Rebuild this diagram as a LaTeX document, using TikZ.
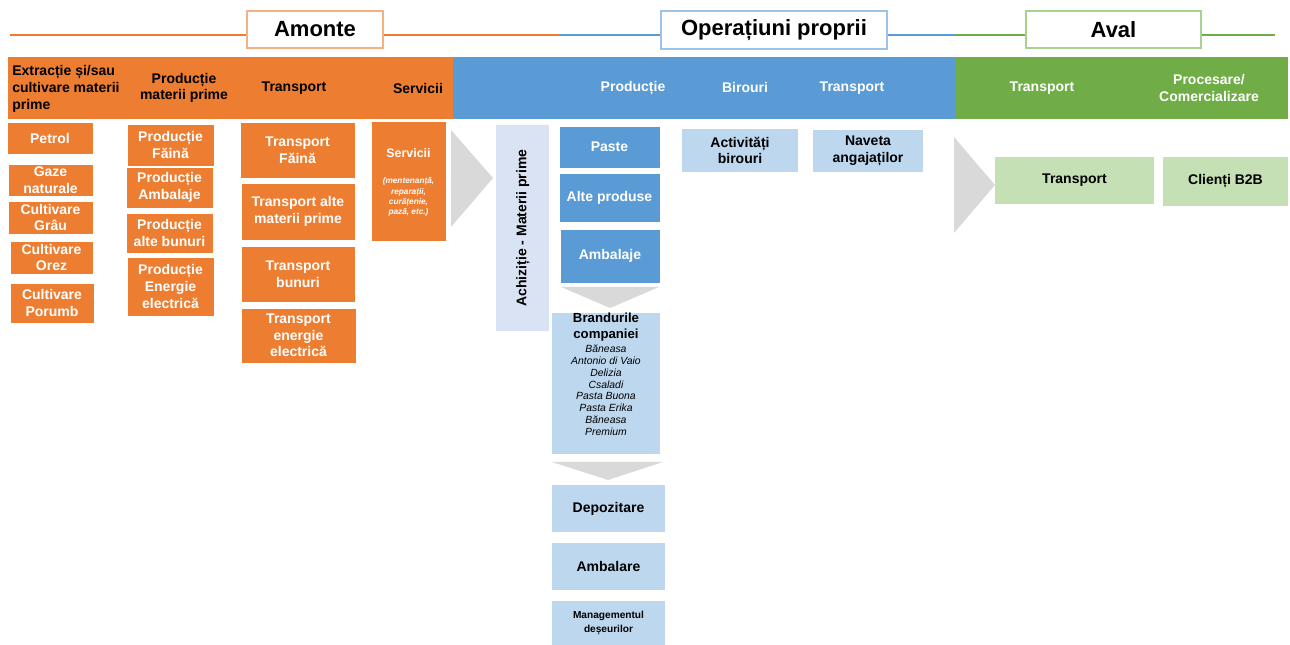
\documentclass[tikz,border=0pt]{standalone}
\usepackage{fontspec}
\setmainfont{Liberation Sans}
\setsansfont{Liberation Sans}
\definecolor{cOrange}{HTML}{ED7D31}
\definecolor{cBlue}{HTML}{5B9BD5}
\definecolor{cGreen}{HTML}{70AD47}
\definecolor{cLBlue}{HTML}{BDD7EE}
\definecolor{cLav}{HTML}{DAE3F3}
\definecolor{cLGreen}{HTML}{C5E0B4}
\definecolor{cGray}{HTML}{D9D9D9}
\definecolor{cOrangeB}{HTML}{F4B183}
\definecolor{cBlueB}{HTML}{9DC3E6}
\definecolor{cGreenB}{HTML}{A9D18E}
\newcommand{\mybox}[7]{\node[#6, minimum width={(#4-#2)*0.75pt}, minimum height={(#5-#3)*0.75pt}] (#1) at ({(#2+#4)/2},{(#3+#5)/2}) {#7};}
\tikzset{
  base/.style={inner sep=0pt, outer sep=0pt, align=center, font=\bfseries\fontsize{10.5}{12.5}\selectfont},
  ob/.style={base, fill=cOrange, draw=white, line width=0.6pt, text=white},
  bb/.style={base, fill=cBlue, draw=white, line width=0.6pt, text=white},
  lb/.style={base, fill=cLBlue, text=black},
  lv/.style={base, fill=cLav, text=black},
  lg/.style={base, fill=cLGreen, text=black},
  bandbox/.style={inner sep=0pt, outer sep=0pt},
  bandtxt/.style={inner sep=0pt, align=center, font=\bfseries\fontsize{10.5}{12.5}\selectfont},
  titlebox/.style={base, fill=white, line width=0.8pt, font=\bfseries\fontsize{16.5}{18}\selectfont},
  hline/.style={line width=1.8pt},
  chev/.style={fill=cGray, draw=none},
}
\begin{document}
\begin{tikzpicture}[x=0.75pt,y=-0.75pt]
\useasboundingbox (0,0) rectangle (1290,645);
% header lines
\coordinate (L0) at (10,35);
\coordinate (L1) at (559,35);
\coordinate (L2) at (956,35);
\coordinate (L3) at (1275,35);
\draw[hline, cOrange] (L0) -- (L1);
\draw[hline, cBlue] (L1) -- (L2);
\draw[hline, cGreen] (L2) -- (L3);
\mybox{tA}{247}{11}{383}{48}{titlebox, draw=cOrangeB}{Amonte}
\mybox{tO}{661}{11}{887}{49}{titlebox, draw=cBlueB}{Operațiuni proprii}
\mybox{tV}{1026}{11}{1201}{48}{titlebox, draw=cGreenB}{Aval}
% bands
\mybox{bA}{8}{57}{453}{119}{bandbox, fill=cOrange}{}
\mybox{bO}{453}{57}{955}{119}{bandbox, fill=cBlue}{}
\mybox{bV}{955}{57}{1288}{119}{bandbox, fill=cGreen}{}
\node[bandtxt, anchor=west, align=left] (h1) at (12,89) {Extracție și/sau\\cultivare materii\\prime};
\node[bandtxt] (h2) at (184,88) {Producție\\materii prime};
\node[bandtxt] (h3) at (294,88) {Transport};
\node[bandtxt] (h4) at (418,88) {Servicii};
\node[bandtxt, text=white] (h5) at (633,88) {Producție};
\node[bandtxt, text=white] (h6) at (745,87) {Birouri};
\node[bandtxt, text=white] (h7) at (852,88) {Transport};
\node[bandtxt, text=white] (h8) at (1042,88) {Transport};
\node[bandtxt, text=white] (h9) at (1209,88) {Procesare/\\Comercializare};
% column 1
\mybox{c1a}{7}{122}{93}{154}{ob}{Petrol}
\mybox{c1b}{8}{164}{93}{196}{ob}{Gaze\\naturale}
\mybox{c1c}{8}{201}{93}{234}{ob}{Cultivare\\Grâu}
\mybox{c1d}{10}{241}{93}{274}{ob}{Cultivare\\Orez}
\mybox{c1e}{10}{283}{94}{323}{ob}{Cultivare\\Porumb}
% column 2
\mybox{c2a}{127}{124}{214}{166}{ob}{Producție\\Făină}
\mybox{c2b}{126}{167}{213}{208}{ob}{Producție\\Ambalaje}
\mybox{c2c}{126}{213}{213}{253}{ob}{Producție\\alte bunuri}
\mybox{c2d}{127}{257}{214}{316}{ob}{Producție\\Energie\\electrică}
% column 3
\mybox{c3a}{240}{122}{355}{178}{ob}{Transport\\Făină}
\mybox{c3b}{241}{183}{355}{240}{ob}{Transport alte\\materii prime}
\mybox{c3c}{241}{246}{355}{302}{ob}{Transport\\bunuri}
\mybox{c3d}{241}{308}{356}{363}{ob}{Transport\\energie\\electrică}
% column 4
\mybox{c4}{371}{121}{446}{241}{ob}{}
\node[inner sep=0pt, text=white, font=\bfseries\fontsize{9.3}{11}\selectfont] (c4t) at (408.5,153) {Servicii};
\node[inner sep=0pt, text=white, align=center, font=\bfseries\itshape\fontsize{6.2}{7.6}\selectfont] (c4s) at (408.5,197) {(mentenanță,\\reparații,\\curățenie,\\pază, etc.)};
% gray chevrons
\fill[chev] (451,130) -- (493,178) -- (451,227) -- cycle;
\fill[chev] (954,137) -- (995,185) -- (954,233) -- cycle;
\fill[chev] (561,287) -- (659,287) -- (610,308) -- cycle;
\fill[chev] (552,462) -- (663,462) -- (608,480) -- cycle;
% own operations
\mybox{acq}{496}{125}{549}{331}{lv}{}
\node[base, rotate=90] (acqt) at (523,228) {Achiziție - Materii prime};
\mybox{pst}{559}{126}{660}{168}{bb}{Paste}
\mybox{alt}{559}{173}{660}{222}{bb}{Alte produse}
\mybox{amb}{560}{229}{660}{283}{bb}{Ambalaje}
\mybox{brd}{552}{313}{660}{454}{lb}{}
\node[inner sep=0pt, align=center, anchor=north, font=\bfseries\fontsize{9.9}{12}\selectfont] (brdh) at (606,313) {Brandurile\\companiei};
\node[inner sep=0pt, align=center, anchor=north, font=\itshape\fontsize{7.8}{8.8}\selectfont] (brdl) at (606,345) {Băneasa\\Antonio di Vaio\\Delizia\\Csaladi\\Pasta Buona\\Pasta Erika\\Băneasa\\Premium};
\mybox{dep}{552}{485}{665}{532}{lb}{Depozitare}
\mybox{aml}{552}{543}{665}{590}{lb}{Ambalare}
\mybox{mgd}{552}{601}{665}{645}{lb, font=\bfseries\fontsize{7.6}{10}\selectfont}{Managementul\\deșeurilor}
\mybox{act}{682}{129}{798}{172}{lb}{Activități\\birouri}
\mybox{nav}{813}{130}{923}{172}{lb}{Naveta\\angajaților}
% downstream
\mybox{trv}{995}{157}{1154}{204}{lg}{Transport}
\mybox{cli}{1163}{157}{1288}{206}{lg}{Clienți B2B}
\end{tikzpicture}
\end{document}
